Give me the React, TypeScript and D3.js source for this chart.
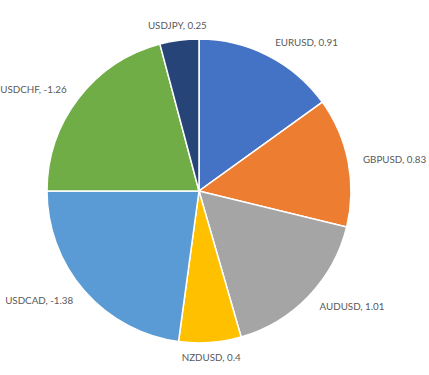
import React, { useRef, useEffect } from 'react';
import * as d3 from 'd3';

const pairs = ['EURUSD', 'GBPUSD', 'AUDUSD', 'NZDUSD', 'USDCAD', 'USDCHF', 'USDJPY'];
const values = [0.91, 0.83, 1.01, 0.4, -1.38, -1.26, 0.25];
const colors = ['#4472C4', '#ED7D31', '#A5A5A5', '#FFC000', '#5B9BD5', '#70AD47', '#264478'];

const App = () => {
    const svgRef = useRef<SVGSVGElement>(null);

    useEffect(() => {
        const svgWidth = 429;
        const svgHeight = 375;
        const cx = 199;
        const cy = 191;
        const radius = 152;

        const svg = d3.select(svgRef.current)
            .attr('width', svgWidth)
            .attr('height', svgHeight);
        svg.selectAll('*').remove();

        const data = pairs.map((p, i) => ({ name: p, value: values[i], color: colors[i] }));

        // slice size uses the absolute value, label keeps the sign
        const pie = d3.pie<any>()
            .value((d) => Math.abs(d.value))
            .sort(null);

        const arc = d3.arc<any>().innerRadius(0).outerRadius(radius);

        const g = svg.append('g').attr('transform', `translate(${cx},${cy})`);

        const arcs = pie(data);

        g.selectAll('path')
            .data(arcs)
            .enter()
            .append('path')
            .attr('d', arc)
            .attr('fill', (d) => d.data.color)
            .attr('stroke', '#fff')
            .attr('stroke-width', 1.5);

        const labelR = radius + 15;
        g.selectAll('text')
            .data(arcs)
            .enter()
            .append('text')
            .attr('x', (d) => labelR * Math.sin((d.startAngle + d.endAngle) / 2))
            .attr('y', (d) => -labelR * Math.cos((d.startAngle + d.endAngle) / 2))
            .attr('dy', '0.35em')
            .attr('text-anchor', (d) => {
                const s = Math.sin((d.startAngle + d.endAngle) / 2);
                if (Math.abs(s) < 0.2) return 'middle';
                return s > 0 ? 'start' : 'end';
            })
            .attr('font-family', 'Lato, "Open Sans", sans-serif')
            .attr('font-size', 9.8)
            .attr('fill', '#595959')
            .text((d) => `${d.data.name}, ${d.data.value}`);
    }, []);

    return (
        <div>
            <svg ref={svgRef} style={{ position: 'absolute', left: 0, top: 0, background: '#fff' }} />
        </div>
    );
};

export default App;
